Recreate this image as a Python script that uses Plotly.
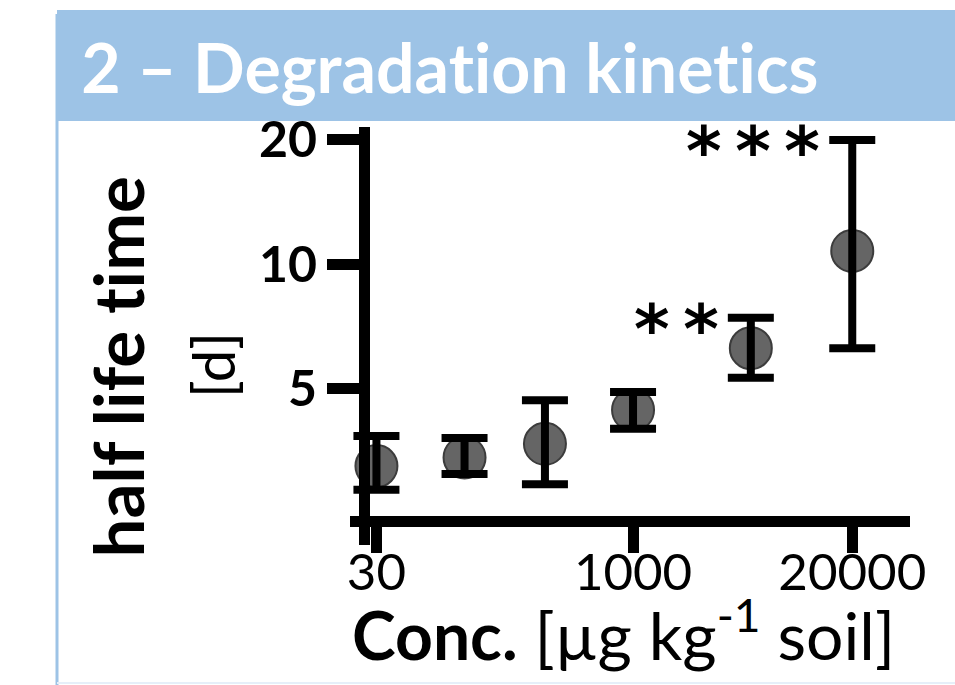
import numpy as np
import plotly.graph_objects as go

# ---------------- data ----------------
conc = [30, 100, 300, 1000, 5000, 20000]            # µg kg-1 soil
half_life = [3.26, 3.42, 3.69, 4.45, 6.27, 10.75]   # d
hl_lower = [2.86, 3.12, 2.95, 4.01, 5.32, 6.27]
hl_upper = [3.85, 3.81, 4.70, 4.92, 7.42, 19.9]
signif = ["", "", "", "", "**", "***"]
x_tick_vals = [30, 1000, 20000]
x_tick_text = ["30", "1000", "20000"]
y_tick_vals = [5, 10, 20]
y_tick_text = ["5", "10", "20"]
title_text = "2 – Degradation kinetics"

# ---------------- layout helpers ----------------
W, H = 955, 685
def px(x):
    return x / W
def py(y):
    return 1 - y / H

BLUE = "#9DC3E6"
FONT = "Lato"

err_plus = [u - v for u, v in zip(hl_upper, half_life)]
err_minus = [v - l for v, l in zip(half_life, hl_lower)]

fig = go.Figure()

# markers
fig.add_trace(go.Scatter(
    x=conc, y=half_life, mode="markers",
    marker=dict(size=42, color="#656565", line=dict(color="#3c3c3c", width=2)),
    cliponaxis=False, hoverinfo="skip",
))
# error bars drawn on top of markers
fig.add_trace(go.Scatter(
    x=conc, y=half_life, mode="markers",
    marker=dict(size=1, color="rgba(0,0,0,0)"),
    error_y=dict(type="data", symmetric=False, array=err_plus, arrayminus=err_minus,
                 color="black", thickness=8, width=23),
    cliponaxis=False, hoverinfo="skip",
))

annotations = []
# significance stars (thin-spaced asterisks)
for xv, yv, s in zip(conc, hl_upper, signif):
    if s:
        annotations.append(dict(
            x=np.log10(xv), y=np.log10(yv), xref="x", yref="y",
            text="\u2009".join(s), showarrow=False, xanchor="right", yanchor="middle",
            xshift=-30, yshift=-12,
            font=dict(family="DejaVu Sans", size=68, color="black", weight="bold"),
        ))

# title in banner
annotations.append(dict(
    x=px(78), y=py(66), xref="paper", yref="paper", text="<b>" + title_text + "</b>",
    showarrow=False, xanchor="left", yanchor="middle",
    font=dict(family=FONT, size=68, color="white"),
))
# y-axis titles
annotations.append(dict(
    x=px(117), y=py(367), xref="paper", yref="paper", text="<b>half life time</b>",
    showarrow=False, textangle=-90, xanchor="center", yanchor="middle",
    font=dict(family=FONT, size=69, color="black"),
))
annotations.append(dict(
    x=px(212), y=py(365), xref="paper", yref="paper", text="[d]",
    showarrow=False, textangle=-90, xanchor="center", yanchor="middle",
    font=dict(family=FONT, size=58, color="black"),
))
# x-axis title
annotations.append(dict(
    x=px(623), y=py(630), xref="paper", yref="paper",
    text="<b>Conc.</b> [µg kg<sup>-1</sup> soil]",
    showarrow=False, xanchor="center", yanchor="middle",
    font=dict(family=FONT, size=66, color="black"),
))

shapes = [
    dict(type="rect", xref="paper", yref="paper", x0=px(57), x1=1.0, y0=py(121), y1=py(10),
         fillcolor=BLUE, line=dict(width=0), layer="below"),
    dict(type="line", xref="paper", yref="paper", x0=px(57), x1=px(57), y0=0, y1=py(14),
         line=dict(color=BLUE, width=3), layer="below"),
    dict(type="line", xref="paper", yref="paper", x0=px(57), x1=1.0, y0=py(683), y1=py(683),
         line=dict(color="#E6EFF9", width=2), layer="below"),
]

fig.update_layout(
    width=W, height=H, margin=dict(l=0, r=0, t=0, b=0, autoexpand=False),
    paper_bgcolor="white", plot_bgcolor="rgba(0,0,0,0)",
    showlegend=False,
    xaxis=dict(
        type="log", range=[1.3202, 4.6437], domain=[px(350), px(910)],
        anchor="free", position=py(521), automargin=False,
        showline=True, linewidth=11, linecolor="black",
        ticks="outside", ticklen=26, tickwidth=11, tickcolor="black",
        tickvals=x_tick_vals, ticktext=x_tick_text, ticklabelstandoff=-24,
        tickfont=dict(family=FONT, size=51, color="black"),
        showgrid=False, zeroline=False,
    ),
    yaxis=dict(
        type="log", range=[0.3232, 1.3300], domain=[py(545), py(127)],
        anchor="free", position=px(364), automargin=False,
        showline=True, linewidth=11, linecolor="black",
        ticks="outside", ticklen=32, tickwidth=11, tickcolor="black",
        tickvals=y_tick_vals, ticktext=y_tick_text,
        tickfont=dict(family=FONT, size=50, color="black", weight="bold"),
        showgrid=False, zeroline=False,
    ),
    annotations=annotations,
    shapes=shapes,
)

fig.write_html(
    "out.html",
    post_script="var s=document.createElement('style');"
                "s.textContent='svg text{font-variant-ligatures:none;font-feature-settings:\"liga\" 0;}';"
                "document.head.appendChild(s);",
)
